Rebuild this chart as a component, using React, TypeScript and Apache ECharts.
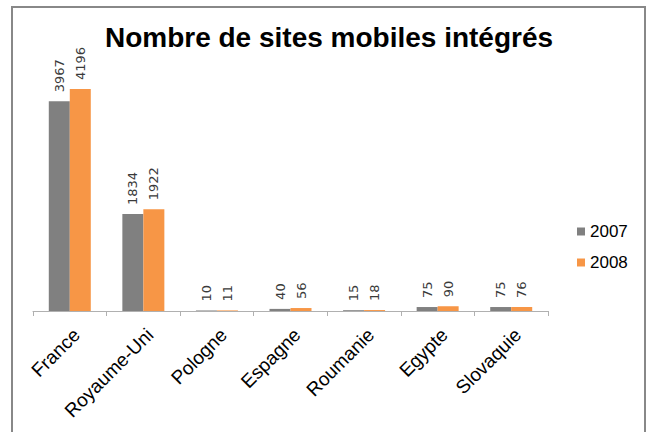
import React, { useEffect, useRef } from "react";
import * as echarts from "echarts";

const categories = ["France", "Royaume-Uni", "Pologne", "Espagne", "Roumanie", "Egypte", "Slovaquie"];
const values2007 = [3967, 1834, 10, 40, 15, 75, 75];
const values2008 = [4196, 1922, 11, 56, 18, 90, 76];
const seriesNames = ["2007", "2008"];
const titleText = "Nombre de sites mobiles intégrés";

export default function App() {
  const ref = useRef<HTMLDivElement>(null);
  useEffect(() => {
    if (!ref.current) return;
    const chart = echarts.init(ref.current, null, { renderer: "svg" });
    const labelCfg = {
      show: true,
      position: "top",
      rotate: 90,
      align: "left",
      verticalAlign: "middle",
      distance: 9,
      fontFamily: "DejaVu Sans",
      fontSize: 13,
      color: "#3a3a3a",
    };
    chart.setOption({
      animation: false,
      backgroundColor: "#ffffff",
      grid: { left: 33, right: 103, top: 73, bottom: 121 },
      xAxis: {
        type: "category",
        data: categories,
        axisLine: { lineStyle: { color: "#b0b0b0", width: 1 } },
        axisTick: { show: true, length: 5, lineStyle: { color: "#b0b0b0" } },
        axisLabel: {
          rotate: 45,
          interval: 0,
          margin: 14,
          verticalAlign: "top",
          fontFamily: "Liberation Sans, Arial, sans-serif",
          fontSize: 19,
          color: "#000000",
        },
      },
      yAxis: {
        type: "value",
        min: 0,
        max: 4500,
        show: false,
        splitLine: { show: false },
      },
      legend: {
        orient: "vertical",
        left: 577,
        top: 223,
        padding: 0,
        itemWidth: 8,
        itemHeight: 8,
        itemGap: 14,
        icon: "rect",
        data: seriesNames,
        textStyle: { fontFamily: "Liberation Sans, Arial, sans-serif", fontSize: 17, color: "#000000" },
      },
      series: [
        {
          name: seriesNames[0],
          type: "bar",
          data: values2007,
          barWidth: 21,
          barGap: "0%",
          itemStyle: { color: "#808080" },
          label: labelCfg,
        },
        {
          name: seriesNames[1],
          type: "bar",
          data: values2008,
          barWidth: 21,
          barGap: "0%",
          itemStyle: { color: "#F79646" },
          label: labelCfg,
        },
      ],
      graphic: [
        {
          type: "rect",
          shape: { x: 12, y: 7, width: 633, height: 440 },
          style: { fill: "none", stroke: "#888888", lineWidth: 2 },
          silent: true,
        },
        {
          type: "text",
          x: 329,
          y: 37,
          style: {
            text: titleText,
            fontFamily: "Liberation Sans, Arial, sans-serif",
            fontWeight: "bold",
            fontSize: 28,
            fill: "#000000",
            textAlign: "center",
            textVerticalAlign: "middle",
          },
        },
      ],
    });
    return () => chart.dispose();
  }, []);
  return <div ref={ref} style={{ position: "fixed", left: 0, top: 0, width: 651, height: 432 }} />;
}
